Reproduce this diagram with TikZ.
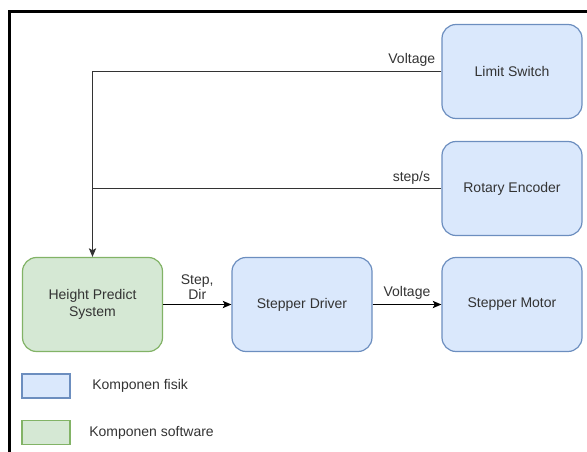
\documentclass[tikz,border=0pt]{standalone}
\usepackage{fontspec}
\setmainfont{Liberation Sans}
\usetikzlibrary{arrows.meta,calc}
\definecolor{phyfill}{HTML}{DAE8FC}
\definecolor{phyline}{HTML}{6C8EBF}
\definecolor{swfill}{HTML}{D5E8D4}
\definecolor{swline}{HTML}{82B366}
\definecolor{txt}{HTML}{333333}
\begin{document}
\begin{tikzpicture}[x=0.75pt,y=-0.75pt,
  box/.style={rounded corners=10.5pt, minimum width=105pt, minimum height=70.5pt,
    line width=0.9pt, align=center, text=txt, inner sep=0pt,
    font=\fontsize{10.5}{13}\selectfont},
  phys/.style={box, draw=phyline, fill=phyfill},
  soft/.style={box, draw=swline, fill=swfill},
  legbox/.style={minimum width=36pt, minimum height=18pt, inner sep=0pt, line width=0.9pt},
  lbl/.style={text=txt, inner sep=0pt, align=center, font=\fontsize{10.5}{11.5}\selectfont},
  fb/.style={draw=black!80, line width=0.8pt},
  flow/.style={draw=black, line width=0.9pt, -{Stealth[length=6.5pt,width=5.5pt,inset=1.5pt]}}
]
\useasboundingbox (0,0) rectangle (587,452);
% outer frame
\draw[line width=1.6pt] (9.5,452) -- (9.5,11.5) -- (587,11.5);
% components
\node[phys] (ls)  at (512,71.5)  {Limit Switch};
\node[phys] (re)  at (512,188.5) {Rotary Encoder};
\node[soft] (hps) at (92.5,304.5) {Height Predict\\System};
\node[phys] (sd)  at (302,304.5) {Stepper Driver};
\node[phys] (sm)  at (512,304.5) {Stepper Motor};
% feedback connectors
\coordinate (j) at (re.west -| hps.north);
\draw[fb] (re.west) -- (j);
\draw[fb, -{Stealth[length=6.5pt,width=5.5pt,inset=1.5pt]}] (ls.west) -| (hps.north);
\path (ls.west) ++(-6,-12) node[lbl, anchor=east] (l1) {Voltage};
\path (re.west) ++(-11,-11) node[lbl, anchor=east] (l2) {step/s};
% forward connectors
\draw[flow] (hps.east) -- (sd.west);
\draw[flow] (sd.east) -- (sm.west);
\node[lbl, font=\fontsize{10.5}{11.25}\selectfont] (l3) at ($(hps.east)!0.5!(sd.west)+(0,-17)$) {Step,\\Dir};
\node[lbl] (l4) at ($(sd.east)!0.5!(sm.west)+(0,-12)$) {Voltage};
% legend
\node[legbox, draw=phyline, fill=phyfill] (lg1) at (46,386) {};
\node[legbox, draw=swline, fill=swfill] (lg2) at (46,432.5) {};
\node[lbl, anchor=west] (lt1) at (92,386) {Komponen fisik};
\node[lbl, anchor=west] (lt2) at (89,432.5) {Komponen software};
\end{tikzpicture}
\end{document}
